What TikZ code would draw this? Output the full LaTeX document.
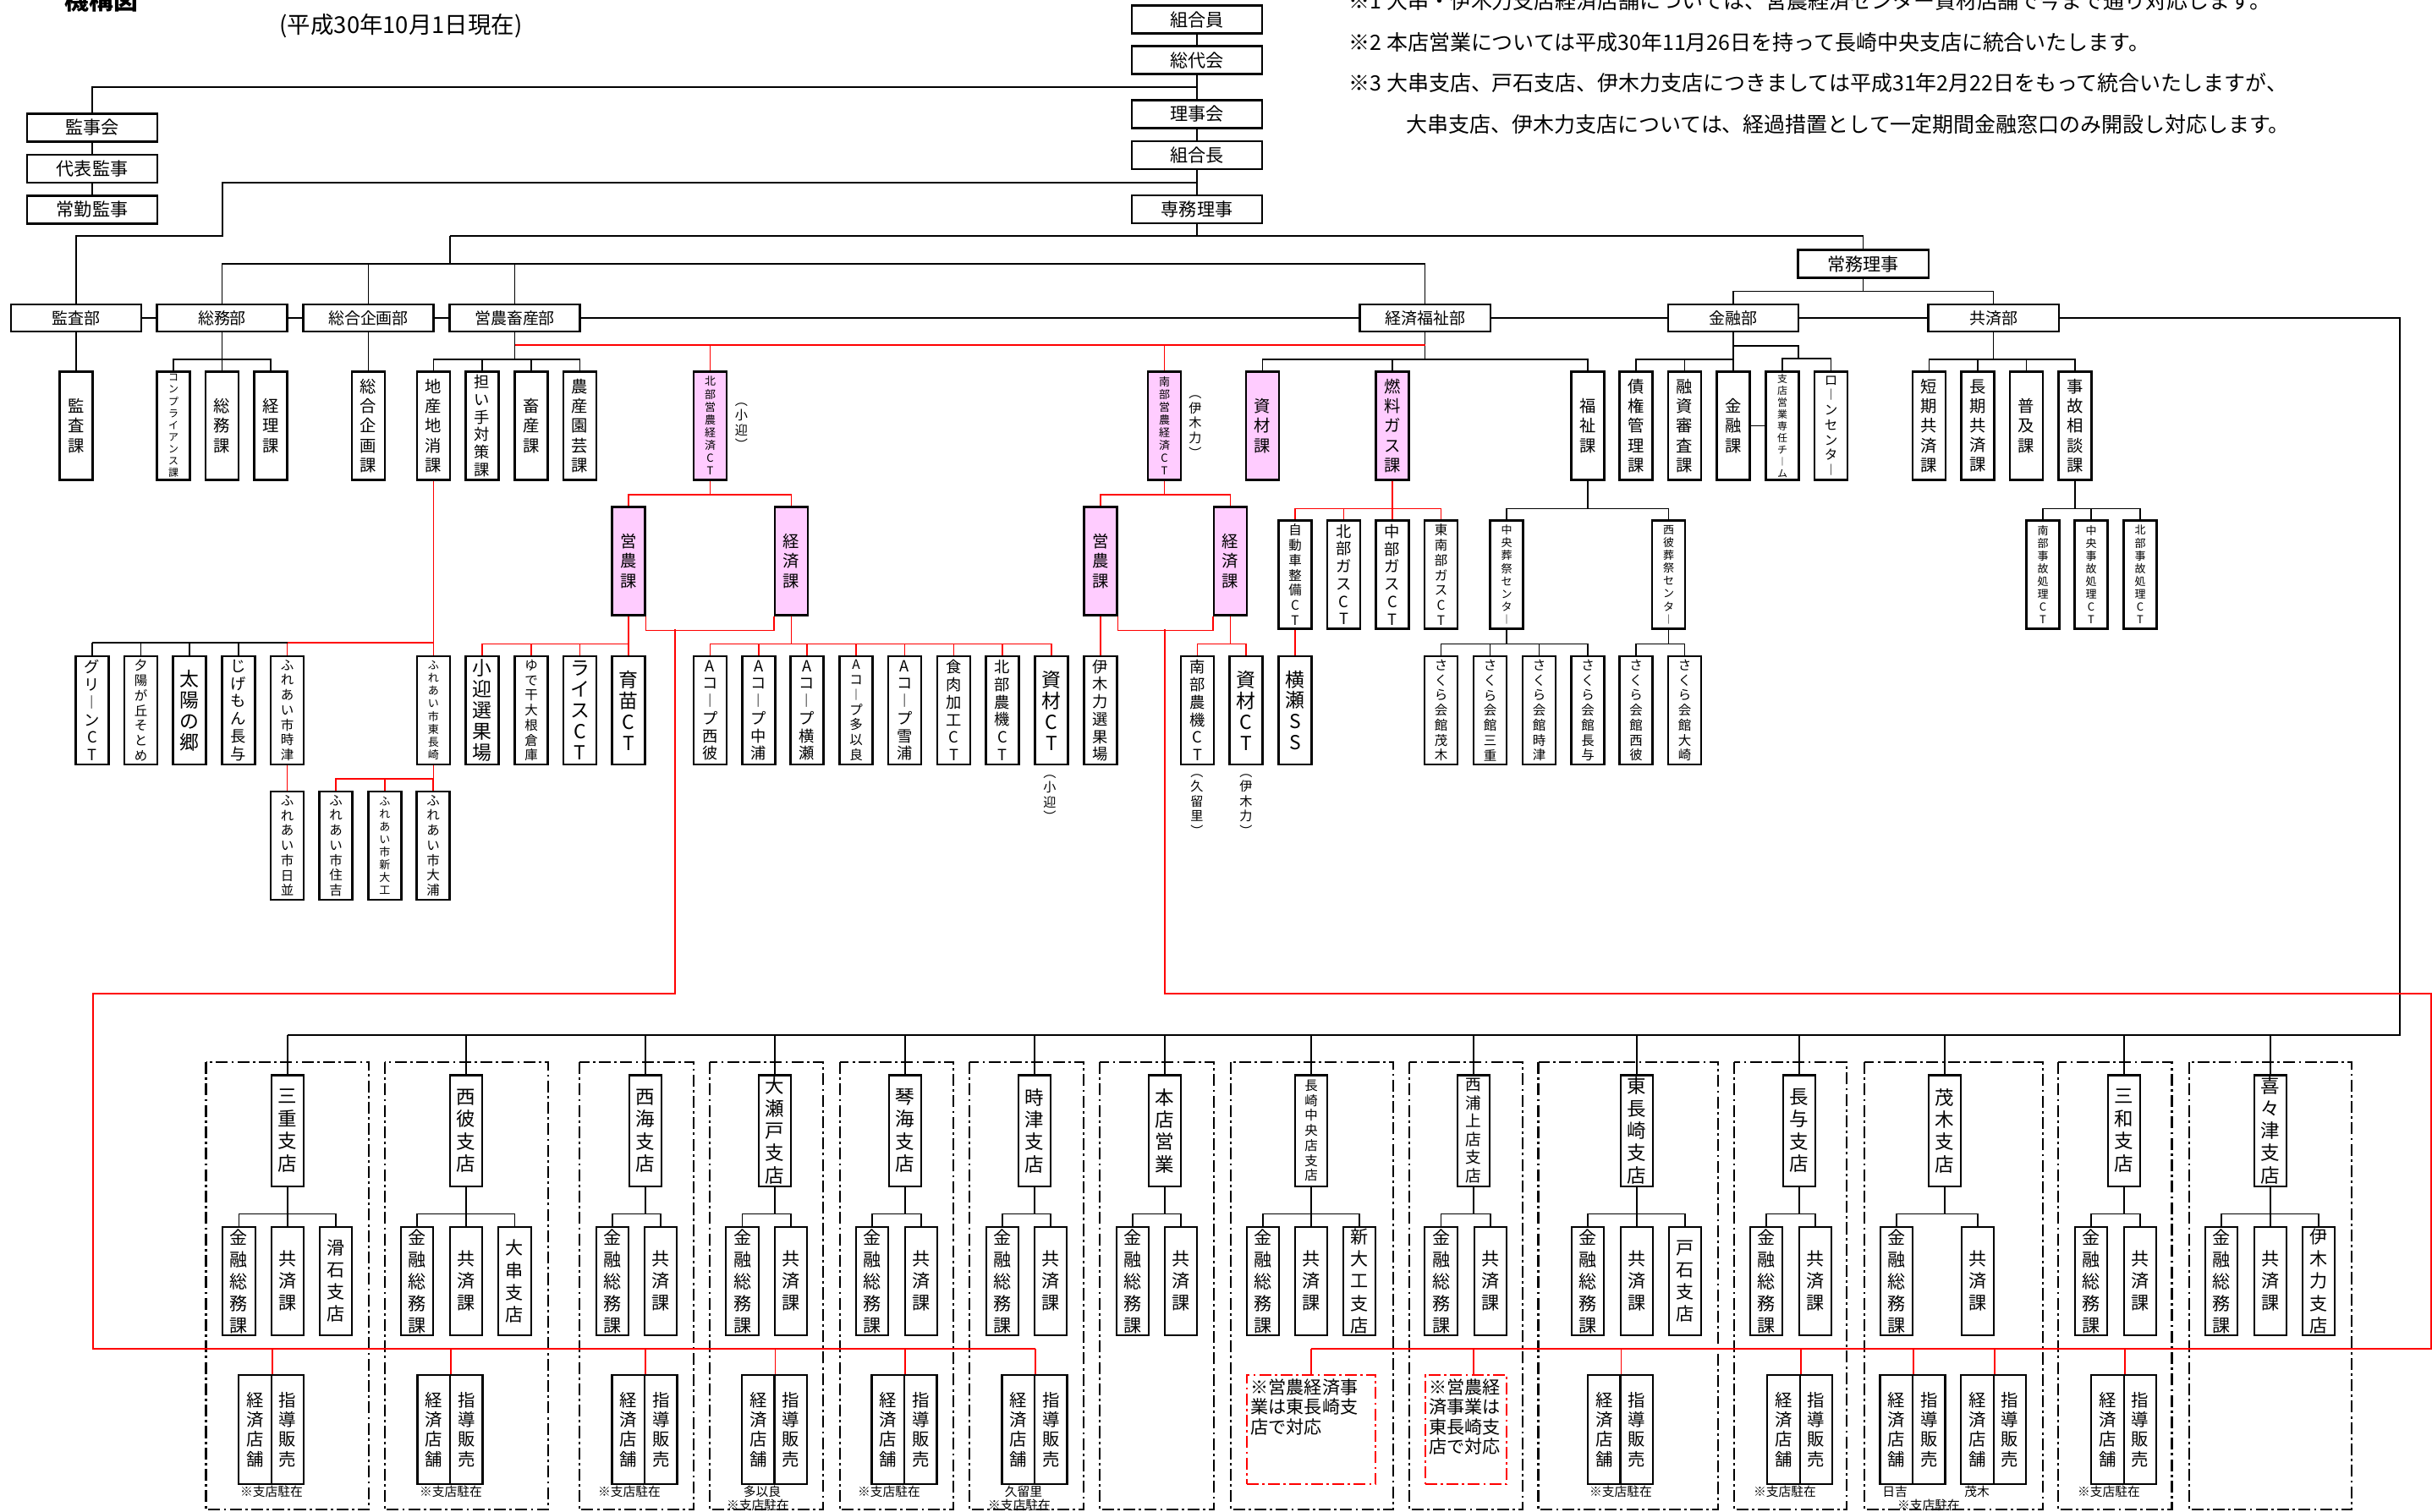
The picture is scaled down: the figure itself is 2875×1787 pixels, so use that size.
\documentclass[tikz,border=0pt]{standalone}
\usepackage{fontspec}
\setmainfont{Noto Sans CJK JP}
\definecolor{pinkbox}{HTML}{FFCCFF}
% one character per line (vertical labels)
\newcommand\tate[1]{\expandafter\tateA#1\relax}
\def\tateA#1#2\relax{#1\ifx\relax#2\relax\else\\\tateA#2\relax\fi}

\begin{document}
\begin{tikzpicture}[x=0.01cm, y=-0.01cm,
  hb/.style={draw, line width=0.6pt, fill=white, minimum width=1.54cm, minimum height=0.33cm, inner sep=0pt, font=\fontsize{6}{7}\selectfont},
  db/.style={hb, minimum height=0.32cm, font=\fontsize{5.4}{6.4}\selectfont},
  vb/.style={draw, line width=0.6pt, fill=white, minimum width=0.39cm, text width=0.39cm, minimum height=1.28cm, inner sep=0pt, align=center, font=\fontsize{5.5}{6.6}\selectfont},
  vL/.style={font=\fontsize{6.5}{7.1}\selectfont},
  vM/.style={font=\fontsize{5.2}{5.9}\selectfont},
  vS/.style={font=\fontsize{4.4}{5.05}\selectfont},
  vXS/.style={font=\fontsize{3.7}{4.3}\selectfont},
  vXXS/.style={font=\fontsize{3.4}{4}\selectfont},
  pk/.style={fill=pinkbox},
  bb/.style={vb, minimum width=0.385cm, text width=0.385cm, minimum height=1.31cm, font=\fontsize{6.4}{7.5}\selectfont},
  kb/.style={vb, minimum width=0.385cm, text width=0.385cm, font=\fontsize{6}{7.4}\selectfont},
  sb/.style={vb, minimum width=0.385cm, text width=0.385cm, minimum height=1.29cm, font=\fontsize{5.8}{6.6}\selectfont},
  pa/.style={inner sep=0pt, text width=0.2cm, align=center, font=\fontsize{4.3}{5}\selectfont},
  lbl/.style={inner sep=0pt, font=\fontsize{4.2}{5}\selectfont},
  conn/.style={line width=0.5pt},
  rconn/.style={conn, red},
  grp/.style={line width=0.6pt, dash pattern=on 4pt off 1.2pt on 0.8pt off 1.2pt},
  notebox/.style={draw=red, grp, minimum height=1.29cm, inner sep=0pt},
  notetext/.style={inner sep=1.5pt, align=left, font=\fontsize{6}{6.6}\selectfont}
]
\useasboundingbox (0,0) rectangle (2875,1787);

% heading and notes
\node[font=\bfseries\fontsize{8.2}{9}\selectfont, anchor=base] (title) at (120,11) {機構図};
\node[font=\fontsize{7.8}{9}\selectfont] (date) at (474,31) {(平成30年10月1日現在)};
\node[font=\fontsize{7.1}{8}\selectfont, anchor=west, inner sep=0pt] (note1) at (1594,1.5) {※1 大串・伊木力支店経済店舗については、営農経済センター資材店舗で今まで通り対応します。};
\node[font=\fontsize{7.1}{8}\selectfont, anchor=west, inner sep=0pt] (note2) at (1594,50) {※2 本店営業については平成30年11月26日を持って長崎中央支店に統合いたします。};
\node[font=\fontsize{7.1}{8}\selectfont, anchor=west, inner sep=0pt] (note3) at (1594,98) {※3 大串支店、戸石支店、伊木力支店につきましては平成31年2月22日をもって統合いたしますが、};
\node[font=\fontsize{7.1}{8}\selectfont, anchor=west, inner sep=0pt] (note4) at (1662,147) {大串支店、伊木力支店については、経過措置として一定期間金融窓口のみ開設し対応します。};

% branch frames
\foreach \xa/\xb in {243.5/436.4, 454.6/647.6, 684.7/820, 839/973, 992.7/1127.4, 1146/1281, 1300/1435, 1455/1647, 1666/1800, 1818.5/2030.6, 2050/2183, 2204/2415, 2433/2567.5, 2588/2780}
  \draw[grp] (\xa,1256) rectangle (\xb,1785);

% top
\node[hb] (kumiaiin) at (1415,23) {組合員};
\node[hb] (sodaikai) at (1415,71) {総代会};
\node[hb] (rijikai) at (1415,135) {理事会};
\node[hb] (kumiaicho) at (1415,183.5) {組合長};
\node[hb] (senmu) at (1415,247.5) {専務理事};
\node[hb] (jomu) at (2202.5,312) {常務理事};
\node[hb] (kanjikai) at (109,151) {監事会};
\node[hb] (daihyo) at (109,199.5) {代表監事};
\node[hb] (jokin) at (109,248) {常勤監事};

% departments
\node[db] (kansabu) at (90,376) {監査部};
\node[db] (somubu) at (262.5,376) {総務部};
\node[db] (kikakubu) at (435.5,376) {総合企画部};
\node[db] (einobu) at (608.5,376) {営農畜産部};
\node[db] (keizaibu) at (1684.5,376) {経済福祉部};
\node[db] (kinyubu) at (2049,376) {金融部};
\node[db] (kyosaibu) at (2356.5,376) {共済部};

% sections
\node[vb] (kansaka) at (90,503.5) {\tate{監査課}};
\node[vb,vXXS] (compl) at (205,503.5) {\tate{コンプライアンス課}};
\node[vb] (somuka) at (262.5,503.5) {\tate{総務課}};
\node[vb] (keirika) at (320,503.5) {\tate{経理課}};
\node[vb] (kikakuka) at (435.5,503.5) {\tate{総合企画課}};
\node[vb] (chisan) at (512.5,503.5) {\tate{地産地消課}};
\node[vb,vM] (ninaite) at (570,503.5) {\tate{担い手対策課}};
\node[vb] (chikusan) at (628,503.5) {\tate{畜産課}};
\node[vb] (nosan) at (685.5,503.5) {\tate{農産園芸課}};
\node[vb,pk,vXS] (hokuCT) at (839.5,503.5) {\tate{北部営農経済CT}};
\node[vb,pk,vXS] (nanCT) at (1376.5,503.5) {\tate{南部営農経済CT}};
\node[vb,pk] (shizaika) at (1492.5,503.5) {\tate{資材課}};
\node[vb,pk] (nenryo) at (1646,503.5) {\tate{燃料ガス課}};
\node[vb] (fukushi) at (1877,503.5) {\tate{福祉課}};
\node[vb] (saiken) at (1934,503.5) {\tate{債権管理課}};
\node[vb] (yushi) at (1991.5,503.5) {\tate{融資審査課}};
\node[vb] (kinyuka) at (2049,503.5) {\tate{金融課}};
\node[vb,vXXS] (shiten) at (2107,503.5) {\tate{支店営業専任チ︱ム}};
\node[vb,vS] (loan) at (2164.5,503.5) {\tate{ロ︱ンセンタ︱}};
\node[vb] (tanki) at (2280.5,503.5) {\tate{短期共済課}};
\node[vb] (choki) at (2338,503.5) {\tate{長期共済課}};
\node[vb] (fukyu) at (2395.5,503.5) {\tate{普及課}};
\node[vb] (jiko) at (2453,503.5) {\tate{事故相談課}};
\node[pa] (p1) at (876.5,504) {\tate{︵小迎︶}};
\node[pa] (p2) at (1413,504.5) {\tate{︵伊木力︶}};

% third level
\node[vb,pk] (hEino) at (743,663.5) {\tate{営農課}};
\node[vb,pk] (hKeizai) at (935.5,663.5) {\tate{経済課}};
\node[vb,pk] (nEino) at (1301,663.5) {\tate{営農課}};
\node[vb,pk] (nKeizai) at (1454.5,663.5) {\tate{経済課}};
\node[vb,vS] (jidosha) at (1531,679.5) {\tate{自動車整備CT}};
\node[vb,vM] (hokugas) at (1588.5,679.5) {\tate{北部ガスCT}};
\node[vb,vM] (chugas) at (1646,679.5) {\tate{中部ガスCT}};
\node[vb,vS] (tonangas) at (1703.5,679.5) {\tate{東南部ガスCT}};
\node[vb,vXS] (chuoso) at (1781,679.5) {\tate{中央葬祭センタ︱}};
\node[vb,vXS] (nishiso) at (1972.5,679.5) {\tate{西彼葬祭センタ︱}};
\node[vb,vXS] (nanjiko) at (2415,679.5) {\tate{南部事故処理CT}};
\node[vb,vXS] (chujiko) at (2472,679.5) {\tate{中央事故処理CT}};
\node[vb,vXS] (hokujiko) at (2530,679.5) {\tate{北部事故処理CT}};

% fourth level
\node[vb,vM] (green) at (109,840) {\tate{グリ︱ンCT}};
\node[vb,vS] (yuhi) at (166.5,840) {\tate{夕陽が丘そとめ}};
\node[vb,vL] (taiyo) at (224,840) {\tate{太陽の郷}};
\node[vb,vM] (jige) at (282,840) {\tate{じげもん長与}};
\node[vb,vS] (fjitsu) at (339.5,840) {\tate{ふれあい市時津}};
\node[vb,vXS] (fhigashi) at (512.5,840) {\tate{ふれあい市東長崎}};
\node[vb,vL] (komukae) at (570,840) {\tate{小迎選果場}};
\node[vb,vS] (yude) at (628,840) {\tate{ゆで干大根倉庫}};
\node[vb,vL] (rice) at (685.5,840) {\tate{ライスCT}};
\node[vb,vL] (ikubyo) at (743,840) {\tate{育苗CT}};
\node[vb,vM] (a1) at (839.5,840) {\tate{Aコ︱プ西彼}};
\node[vb,vM] (a2) at (897,840) {\tate{Aコ︱プ中浦}};
\node[vb,vM] (a3) at (954,840) {\tate{Aコ︱プ横瀬}};
\node[vb,vS] (a4) at (1012,840) {\tate{Aコ︱プ多以良}};
\node[vb,vM] (a5) at (1069.5,840) {\tate{Aコ︱プ雪浦}};
\node[vb,vM] (shokuniku) at (1127.5,840) {\tate{食肉加工CT}};
\node[vb,vM] (hnoki) at (1185,840) {\tate{北部農機CT}};
\node[vb,vL] (hshizai) at (1243,840) {\tate{資材CT}};
\node[vb,vM] (ikiriki) at (1301,840) {\tate{伊木力選果場}};
\node[vb,vM] (nnoki) at (1415.5,840) {\tate{南部農機CT}};
\node[vb,vL] (nshizai) at (1473,840) {\tate{資材CT}};
\node[vb,vL] (yokose) at (1531,840) {\tate{横瀬SS}};
\node[vb,vS] (sMogi) at (1703.5,840) {\tate{さくら会館茂木}};
\node[vb,vS] (sMie) at (1761.5,840) {\tate{さくら会館三重}};
\node[vb,vS] (sToki) at (1819.5,840) {\tate{さくら会館時津}};
\node[vb,vS] (sNagayo) at (1877,840) {\tate{さくら会館長与}};
\node[vb,vS] (sSaihi) at (1934,840) {\tate{さくら会館西彼}};
\node[vb,vS] (sOsaki) at (1991.5,840) {\tate{さくら会館大崎}};
\node[pa] (p3) at (1241,944) {\tate{︵小迎︶}};
\node[pa] (p4) at (1415,952) {\tate{︵久留里︶}};
\node[pa] (p5) at (1473,952) {\tate{︵伊木力︶}};

\node[vb,vS] (fhinami) at (339.5,1000) {\tate{ふれあい市日並}};
\node[vb,vS] (fsumiyoshi) at (397,1000) {\tate{ふれあい市住吉}};
\node[vb,vXS] (fshindaiku) at (455,1000) {\tate{ふれあい市新大工}};
\node[vb,vS] (foura) at (512,1000) {\tate{ふれあい市大浦}};

% branches
\node[bb] (b1) at (340,1337) {\tate{三重支店}};
\node[kb] (c1a) at (282.5,1515) {\tate{金融総務課}};
\node[kb] (c1b) at (340,1515) {\tate{共済課}};
\node[kb] (c1c) at (397,1515) {\tate{滑石支店}};
\node[sb] (k1) at (301.5,1690.5) {\tate{経済店舗}};
\node[sb] (s1) at (340,1690.5) {\tate{指導販売}};
\node[lbl] (l1) at (321,1764) {※支店駐在};

\node[bb] (b2) at (551,1337) {\tate{西彼支店}};
\node[kb] (c2a) at (493,1515) {\tate{金融総務課}};
\node[kb] (c2b) at (551,1515) {\tate{共済課}};
\node[kb] (c2c) at (608.5,1515) {\tate{大串支店}};
\node[sb] (k2) at (512.75,1690.5) {\tate{経済店舗}};
\node[sb] (s2) at (551.25,1690.5) {\tate{指導販売}};
\node[lbl] (l2) at (533,1764) {※支店駐在};

\node[bb] (b3) at (763,1337) {\tate{西海支店}};
\node[kb] (c3a) at (724,1515) {\tate{金融総務課}};
\node[kb] (c3b) at (781,1515) {\tate{共済課}};
\node[sb] (k3) at (742.75,1690.5) {\tate{経済店舗}};
\node[sb] (s3) at (781.25,1690.5) {\tate{指導販売}};
\node[lbl] (l3) at (744,1764) {※支店駐在};

\node[bb] (b4) at (916,1337) {\tate{大瀬戸支店}};
\node[kb] (c4a) at (877.6,1515) {\tate{金融総務課}};
\node[kb] (c4b) at (935,1515) {\tate{共済課}};
\node[sb] (k4) at (896.25,1690.5) {\tate{経済店舗}};
\node[sb] (s4) at (934.75,1690.5) {\tate{指導販売}};
\node[lbl] (l4a) at (901,1764) {多以良};
\node[lbl] (l4) at (896,1780) {※支店駐在};

\node[bb] (b5) at (1070,1337) {\tate{琴海支店}};
\node[kb] (c5a) at (1031,1515) {\tate{金融総務課}};
\node[kb] (c5b) at (1089,1515) {\tate{共済課}};
\node[sb] (k5) at (1049.75,1690.5) {\tate{経済店舗}};
\node[sb] (s5) at (1088.25,1690.5) {\tate{指導販売}};
\node[lbl] (l5) at (1051,1764) {※支店駐在};

\node[bb] (b6) at (1223,1337) {\tate{時津支店}};
\node[kb] (c6a) at (1185,1515) {\tate{金融総務課}};
\node[kb] (c6b) at (1242,1515) {\tate{共済課}};
\node[sb] (k6) at (1203.75,1690.5) {\tate{経済店舗}};
\node[sb] (s6) at (1242.25,1690.5) {\tate{指導販売}};
\node[lbl] (l6a) at (1210,1764) {久留里};
\node[lbl] (l6) at (1205,1780) {※支店駐在};

\node[bb] (b7) at (1377,1337) {\tate{本店営業}};
\node[kb] (c7a) at (1339,1515) {\tate{金融総務課}};
\node[kb] (c7b) at (1396,1515) {\tate{共済課}};

\node[bb,vS] (b8) at (1550,1337) {\tate{長崎中央店支店}};
\node[kb] (c8a) at (1493,1515) {\tate{金融総務課}};
\node[kb] (c8b) at (1550,1515) {\tate{共済課}};
\node[kb] (c8c) at (1607,1515) {\tate{新大工支店}};
\node[notebox, minimum width=1.524cm] (m8) at (1550,1690.5) {};
\node[notetext, anchor=north west] (m8t) at (m8.north west) {※営農経済事\\業は東長崎支\\店で対応};

\node[bb,font=\fontsize{5.3}{6.15}\selectfont] (b9) at (1742,1337) {\tate{西浦上店支店}};
\node[kb] (c9a) at (1703.6,1515) {\tate{金融総務課}};
\node[kb] (c9b) at (1762,1515) {\tate{共済課}};
\node[notebox, minimum width=0.965cm] (m9) at (1733,1690.5) {};
\node[notetext, anchor=north west] (m9t) at (m9.north west) {※営農経\\済事業は\\東長崎支\\店で対応};

\node[bb] (b10) at (1935,1337) {\tate{東長崎支店}};
\node[kb] (c10a) at (1877,1515) {\tate{金融総務課}};
\node[kb] (c10b) at (1935,1515) {\tate{共済課}};
\node[kb] (c10c) at (1992,1515) {\tate{戸石支店}};
\node[sb] (k10) at (1896.25,1690.5) {\tate{経済店舗}};
\node[sb] (s10) at (1934.75,1690.5) {\tate{指導販売}};
\node[lbl] (l10) at (1916,1764) {※支店駐在};

\node[bb] (b11) at (2127,1337) {\tate{長与支店}};
\node[kb] (c11a) at (2088,1515) {\tate{金融総務課}};
\node[kb] (c11b) at (2146,1515) {\tate{共済課}};
\node[sb] (k11) at (2108.35,1690.5) {\tate{経済店舗}};
\node[sb] (s11) at (2146.85,1690.5) {\tate{指導販売}};
\node[lbl] (l11) at (2110,1764) {※支店駐在};

\node[bb] (b12) at (2299,1337) {\tate{茂木支店}};
\node[kb] (c12a) at (2242,1515) {\tate{金融総務課}};
\node[kb] (c12b) at (2338,1515) {\tate{共済課}};
\node[sb] (k12a) at (2241.75,1690.5) {\tate{経済店舗}};
\node[sb] (s12a) at (2280.25,1690.5) {\tate{指導販売}};
\node[sb] (k12b) at (2337.45,1690.5) {\tate{経済店舗}};
\node[sb] (s12b) at (2375.95,1690.5) {\tate{指導販売}};
\node[lbl] (l12a) at (2240,1764) {日吉};
\node[lbl] (l12b) at (2337,1764) {茂木};
\node[lbl] (l12) at (2280,1780) {※支店駐在};

\node[bb] (b13) at (2511,1337) {\tate{三和支店}};
\node[kb] (c13a) at (2472,1515) {\tate{金融総務課}};
\node[kb] (c13b) at (2530,1515) {\tate{共済課}};
\node[sb] (k13) at (2491.35,1690.5) {\tate{経済店舗}};
\node[sb] (s13) at (2529.85,1690.5) {\tate{指導販売}};
\node[lbl] (l13) at (2493,1764) {※支店駐在};

\node[bb] (b14) at (2684,1337) {\tate{喜々津支店}};
\node[kb] (c14a) at (2626,1515) {\tate{金融総務課}};
\node[kb] (c14b) at (2684,1515) {\tate{共済課}};
\node[kb] (c14c) at (2741,1515) {\tate{伊木力支店}};

% top lines
\coordinate (j1) at (1415,103);
\coordinate (j2) at (1415,216);
\coordinate (j3) at (263,279);
\coordinate (j4) at (1415,279);
\coordinate (j5) at (532,279);
\coordinate (j6) at (532,312);
\draw[conn] (kumiaiin) -- (sodaikai) -- (rijikai) -- (kumiaicho) -- (senmu);
\draw[conn] (jokin) -- (daihyo) -- (kanjikai);
\draw[conn] (kanjikai.north) |- (j1);
\draw[conn] (j2) -| (j3) -| (kansabu.north);
\draw[conn] (senmu) -- (j4);
\draw[conn] (j5) -| (jomu.north);
\draw[conn] (j5) -- (j6);
\foreach \n in {somubu,kikakubu,einobu,keizaibu}
  \draw[conn] (\n.north) |- (j6);

% department row and branch bus
\coordinate (bus) at (2837,1224);
\draw[conn] (kansabu) -- (somubu) -- (kikakubu) -- (einobu) -- (keizaibu) -- (kinyubu) -- (kyosaibu);
\draw[conn] (kyosaibu) -| (bus) -- (b1.north |- bus);
\foreach \i in {1,...,14}
  \draw[conn] (b\i.north) -- (b\i.north |- bus);

% black fans
\draw[conn] (kansabu) -- (kansaka);
\draw[conn] (kikakubu) -- (kikakuka);
\draw[conn] (kinyuka) -- (shiten);
\coordinate (kjoint) at (2126,424);
\draw[conn] (kinyubu.south) -- ++(0,16) -| (kjoint);
\foreach \n in {shiten,loan}
  \draw[conn] (kjoint) -| (\n.north);
\foreach \p/\d/\cs in {jomu/15/{kinyubu,kyosaibu}, somubu/32/{compl,somuka,keirika},
    einobu/32/{chisan,ninaite,chikusan,nosan}, keizaibu/32/{shizaika,nenryo,fukushi},
    kinyubu/32/{saiken,yushi,kinyuka}, kyosaibu/32/{tanki,choki,fukyu,jiko},
    fukushi/33/{chuoso,nishiso}, jiko/33/{nanjiko,chujiko,hokujiko},
    chuoso/17/{sMogi,sMie,sToki,sNagayo}, nishiso/17/{sSaihi,sOsaki},
    b1/32/{c1a,c1b,c1c}, b2/32/{c2a,c2b,c2c}, b3/32/{c3a,c3b}, b4/32/{c4a,c4b},
    b5/32/{c5a,c5b}, b6/32/{c6a,c6b}, b7/32/{c7a,c7b}, b8/32/{c8a,c8b,c8c},
    b9/32/{c9a,c9b}, b10/32/{c10a,c10b,c10c}, b11/32/{c11a,c11b}, b12/32/{c12a,c12b},
    b13/32/{c13a,c13b}, b14/32/{c14a,c14b,c14c}}
  \foreach \c in \cs
    \draw[conn] (\p.south) -- ++(0,\d) -| (\c.north);

% red lines (営農経済)
\coordinate (rb1) at (608.5,408);
\coordinate (rb2) at (1684.5,408);
\draw[rconn] (rb1) -- (rb2);
\draw[rconn] (hokuCT) -- (hokuCT |- rb1);
\draw[rconn] (nanCT) -- (nanCT |- rb1);
\foreach \p/\d/\cs in {hokuCT/16.5/{hEino,hKeizai}, nanCT/16.5/{nEino,nKeizai},
    nenryo/33/{jidosha,hokugas,chugas,tonangas}, hEino/33/{komukae,yude,rice,ikubyo},
    hKeizai/33/{a1,a2,a3,a4,a5,shokuniku,hnoki,hshizai}, nKeizai/33/{nnoki,nshizai},
    fhigashi/16/{fsumiyoshi,fshindaiku,foura}}
  \foreach \c in \cs
    \draw[rconn] (\p.south) -- ++(0,\d) -| (\c.north);
\draw[rconn] (nEino) -- (ikiriki);
\draw[rconn] (jidosha) -- (yokose);
\draw[rconn] (fjitsu) -- (fhinami);
\coordinate (cbar) at (512.5,760);
\draw[rconn] (chisan) -- (fhigashi);
\draw[rconn] (fjitsu.north) |- (cbar);
\draw[conn] (fjitsu.north |- cbar) -- (green.north |- cbar);
\foreach \n in {green,yuhi,taiyo,jige}
  \draw[conn] (\n.north) -- (\n.north |- cbar);

% red lines down to the branches
\draw[rconn] (hEino.south east) -- ++(0,17) -| (hKeizai.south west);
\draw[rconn] (nEino.south east) -- ++(0,17) -| (nKeizai.south west);
\coordinate (hJ) at (798,744);
\coordinate (lc) at (110,1175);
\coordinate (lb) at (110,1595);
\draw[rconn] (hJ) |- (lc) -- (lb) -- (k6.north east |- lb);
\foreach \n in {k1,k2,k3,k4,k5,k6}
  \draw[rconn] (\n.north east) -- (\n.north east |- lb);
\coordinate (nJ) at (1377,744);
\coordinate (rc) at (2874,1175);
\coordinate (rb) at (2874,1595);
\draw[rconn] (nJ) |- (rc) -- (rb) -- (m8.north |- rb);
\foreach \n in {k10,k11,k12a,k12b,k13}
  \draw[rconn] (\n.north east) -- (\n.north east |- rb);
\draw[rconn] (m8.north) -- (m8.north |- rb);
\draw[rconn] (b9.south |- m9.north) -- (b9.south |- rb);
\end{tikzpicture}
\end{document}
